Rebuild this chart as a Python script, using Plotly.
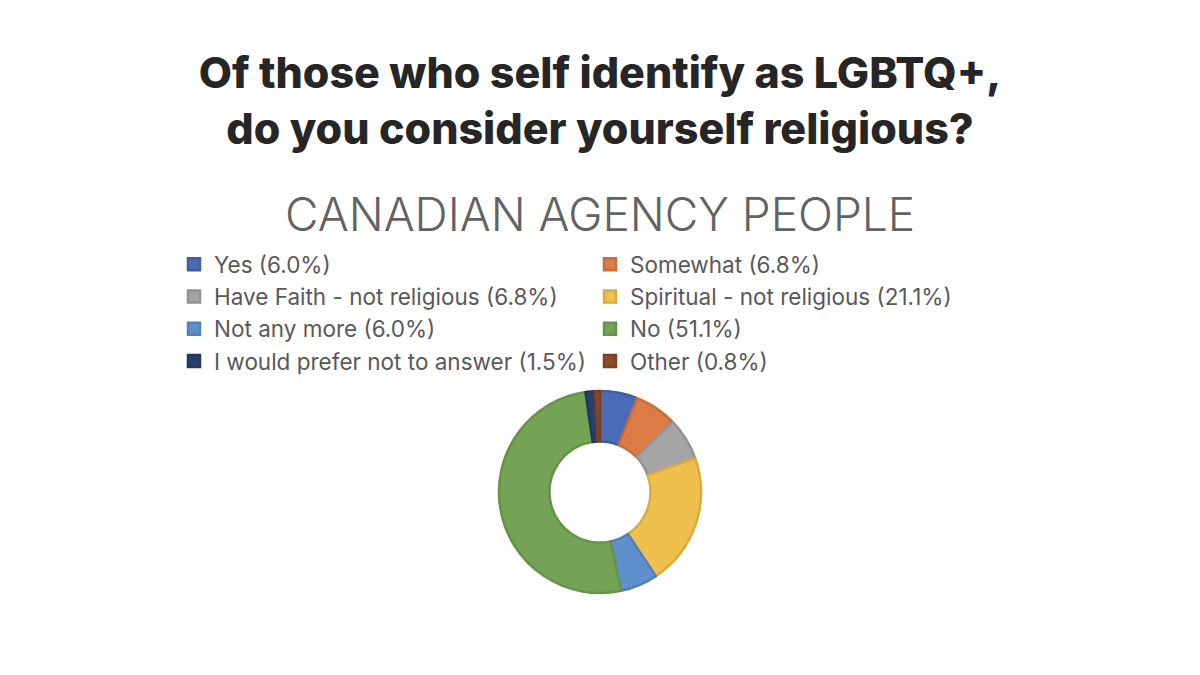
import plotly.graph_objects as go

# survey answers, LGBTQ+ respondents
categories = [
    "Yes",
    "Somewhat",
    "Have Faith - not religious",
    "Spiritual - not religious",
    "Not any more",
    "No",
    "I would prefer not to answer",
    "Other",
]
shares = [6.0, 6.8, 6.8, 21.1, 6.0, 51.1, 1.5, 0.8]

fill_colors = ["#4a6bb6", "#dc7b45", "#a5a5a5", "#f0c04e",
               "#5e8fcc", "#74a356", "#2b3f6e", "#8e4a2b"]
edge_colors = ["#415f9f", "#c76c3a", "#939393", "#d9ab40",
               "#5480b8", "#679249", "#243660", "#7b3f24"]

labels = [f"{c} ({v:.1f}%)" for c, v in zip(categories, shares)]

W, H = 1200, 675
OFF = 8  # page margin the browser adds around the figure

fig = go.Figure(
    go.Pie(
        labels=labels,
        values=shares,
        hole=0.5,
        sort=False,
        direction="clockwise",
        rotation=0,
        textinfo="none",
        hoverinfo="label",
        marker=dict(colors=fill_colors, line=dict(color=edge_colors, width=2.5)),
        domain=dict(
            x=[(499 - OFF) / W, (701 - OFF) / W],
            y=[(H - 593 + OFF) / H, (H - 391 + OFF) / H],
        ),
    )
)

fig.update_layout(
    width=W,
    height=H,
    paper_bgcolor="white",
    plot_bgcolor="white",
    margin=dict(l=0, r=0, t=0, b=0),
    title=dict(
        text="Of those who self identify as LGBTQ+,<br>do you consider yourself religious?",
        x=(600 - OFF) / W,
        xanchor="center",
        y=1 - 80 / H,
        yanchor="middle",
        yref="container",
        font=dict(family="Inter", size=43, color="#262626", weight=800),
    ),
    legend=dict(
        orientation="h",
        x=166 / W,
        xanchor="left",
        y=(H - 243 + OFF) / H,
        yanchor="top",
        entrywidth=371,
        entrywidthmode="pixels",
        font=dict(family="Inter", size=22.5, color="#595959"),
        itemwidth=30,
        bgcolor="rgba(0,0,0,0)",
    ),
    annotations=[
        dict(
            text="CANADIAN AGENCY PEOPLE",
            x=(600 - OFF) / W,
            y=(H - 214 + OFF) / H,
            xref="paper",
            yref="paper",
            xanchor="center",
            yanchor="middle",
            showarrow=False,
            font=dict(family="Inter", size=46, color="#636363", weight=300),
        )
    ],
)

fig.write_html("out.html")
